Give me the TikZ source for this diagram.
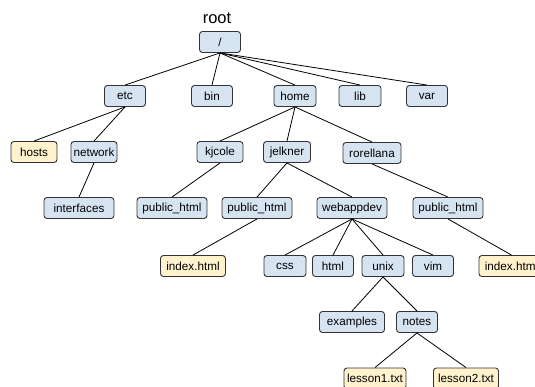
\documentclass[tikz,border=0pt]{standalone}
\usepackage{fontspec}
\setmainfont{Liberation Sans}
\definecolor{dirfill}{HTML}{D6E4F2}
\definecolor{filefill}{HTML}{FFF2CC}
\definecolor{edge}{HTML}{333333}
\tikzset{
  dirbox/.style={draw=edge, line width=0.9pt, fill=dirfill, rounded corners=3pt,
    minimum height=21pt, minimum width=#1, inner sep=0pt,
    font=\fontsize{11.7}{13}\selectfont},
  dirbox/.default=41pt,
  filebox/.style={dirbox=#1, fill=filefill},
  filebox/.default=65pt,
  link/.style={draw=black, line width=0.8pt}
}
\begin{document}
\begin{tikzpicture}[x=1pt,y=-1pt]
\useasboundingbox (0,0) rectangle (535,387);
\begin{scope}
\clip (0,0) rectangle (535,387);
\node[font=\fontsize{16.5}{18}\selectfont] (rootlbl) at (217,18) {root};
\node[dirbox] (root) at (220,42) {/};
\node[dirbox] (etc) at (125,96) {etc};
\node[dirbox] (bin) at (212,96) {bin};
\node[dirbox=42pt] (home) at (295,96) {home};
\node[dirbox=42pt] (lib) at (360,96) {lib};
\node[dirbox] (var) at (427,96) {var};
\node[filebox=46pt] (hosts) at (34,152) {hosts};
\node[dirbox=46pt] (network) at (94,152) {network};
\node[dirbox=46pt] (kjcole) at (220,152) {kjcole};
\node[dirbox=47pt] (jelkner) at (287,152) {jelkner};
\node[dirbox=58pt] (rorellana) at (372,153) {rorellana};
\node[dirbox=70pt] (interfaces) at (79,208) {interfaces};
\node[dirbox=70pt] (pubk) at (172,208) {public\_html};
\node[dirbox=70pt] (pubj) at (257,208) {public\_html};
\node[dirbox=70pt] (webappdev) at (352,208) {webappdev};
\node[dirbox=70pt] (pubr) at (448,208) {public\_html};
\node[filebox] (idxj) at (193,266) {index.html};
\node[dirbox=42pt] (css) at (285,266) {css};
\node[dirbox] (html) at (333,266) {html};
\node[dirbox=42pt] (unix) at (383,266) {unix};
\node[dirbox] (vim) at (433,266) {vim};
\node[filebox] (idxr) at (511.5,266) {index.html};
\node[dirbox=65pt] (examples) at (352,322) {examples};
\node[dirbox] (notes) at (417,322) {notes};
\node[filebox=62pt] (lesson1) at (375,378.5) {lesson1.txt};
\node[filebox=65pt] (lesson2) at (466,378.5) {lesson2.txt};
\end{scope}
\foreach \p/\c in {root/etc,root/bin,root/home,root/lib,root/var,
  etc/hosts,etc/network,network/interfaces,
  home/kjcole,home/jelkner,home/rorellana,
  kjcole/pubk,jelkner/pubj,jelkner/webappdev,rorellana/pubr,
  pubj/idxj,webappdev/css,webappdev/html,webappdev/unix,webappdev/vim,
  pubr/idxr,unix/examples,unix/notes,notes/lesson1,notes/lesson2}
  \draw[link] (\p.south) -- (\c.north);
\end{tikzpicture}
\end{document}
